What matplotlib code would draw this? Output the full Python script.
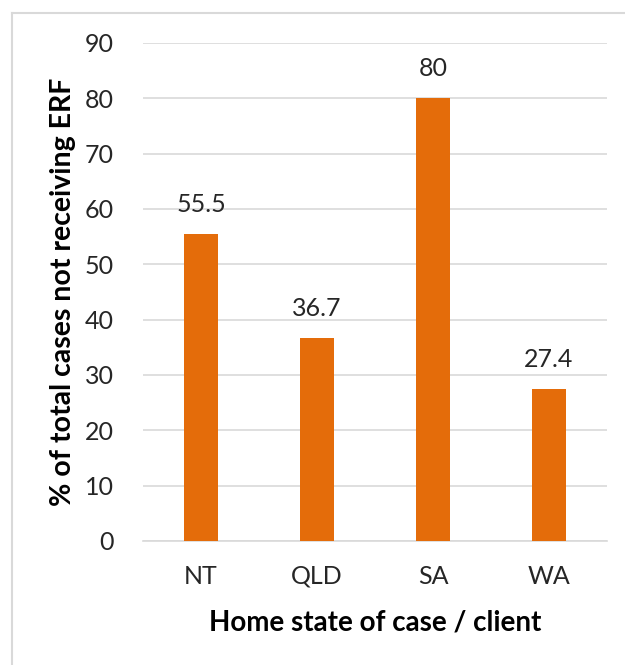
import matplotlib.pyplot as plt
from matplotlib.lines import Line2D
import numpy as np

states = ['NT', 'QLD', 'SA', 'WA']
pct_not_erf = [55.5, 36.7, 80, 27.4]
value_labels = ['55.5', '36.7', '80', '27.4']
y_ticks = [0, 10, 20, 30, 40, 50, 60, 70, 80, 90]

plt.rcParams['font.family'] = ['Lato', 'DejaVu Sans']

fig = plt.figure(figsize=(6.25, 6.65), dpi=100)
ax = fig.add_axes([143 / 625, 1 - 541 / 665, 464 / 625, 498 / 665])

x = np.arange(len(states))
bars = ax.bar(x, pct_not_erf, width=0.30, color='#E46C0A', zorder=3)
for xi, v, lab in zip(x, pct_not_erf, value_labels):
    ax.annotate(lab, (xi, v), xytext=(0, 21.5), textcoords='offset points',
                ha='center', va='center', fontsize=18, color='#262626')

ax.set_xlim(-0.5, 3.5)
ax.set_ylim(0, 90)
ax.set_yticks(y_ticks)
ax.set_xticks(x)
ax.set_xticklabels(states)
ax.tick_params(axis='both', length=0, labelsize=18, colors='#262626')
ax.tick_params(axis='y', pad=21)
ax.tick_params(axis='x', pad=17)
ax.grid(axis='y', color='#d9d9d9', linewidth=1.2, zorder=0)
for s in ['top', 'right', 'left']:
    ax.spines[s].set_visible(False)
ax.spines['bottom'].set_color('#d9d9d9')
ax.spines['bottom'].set_linewidth(1.2)

ax.set_ylabel('% of total cases not receiving ERF', fontsize=20.5,
              fontweight='bold', color='#000000', labelpad=6)
ax.set_xlabel('Home state of case / client', fontsize=20,
              fontweight='bold', color='#000000', labelpad=16)

# chart area border (left and top edges only, rest is cropped)
fig.add_artist(Line2D([12 / 625, 12 / 625], [0, 1 - 13 / 665],
                      transform=fig.transFigure, color='#d9d9d9', lw=1.5))
fig.add_artist(Line2D([12 / 625, 1], [1 - 13 / 665, 1 - 13 / 665],
                      transform=fig.transFigure, color='#d9d9d9', lw=1.5))

fig.savefig('out.png', dpi=100)
